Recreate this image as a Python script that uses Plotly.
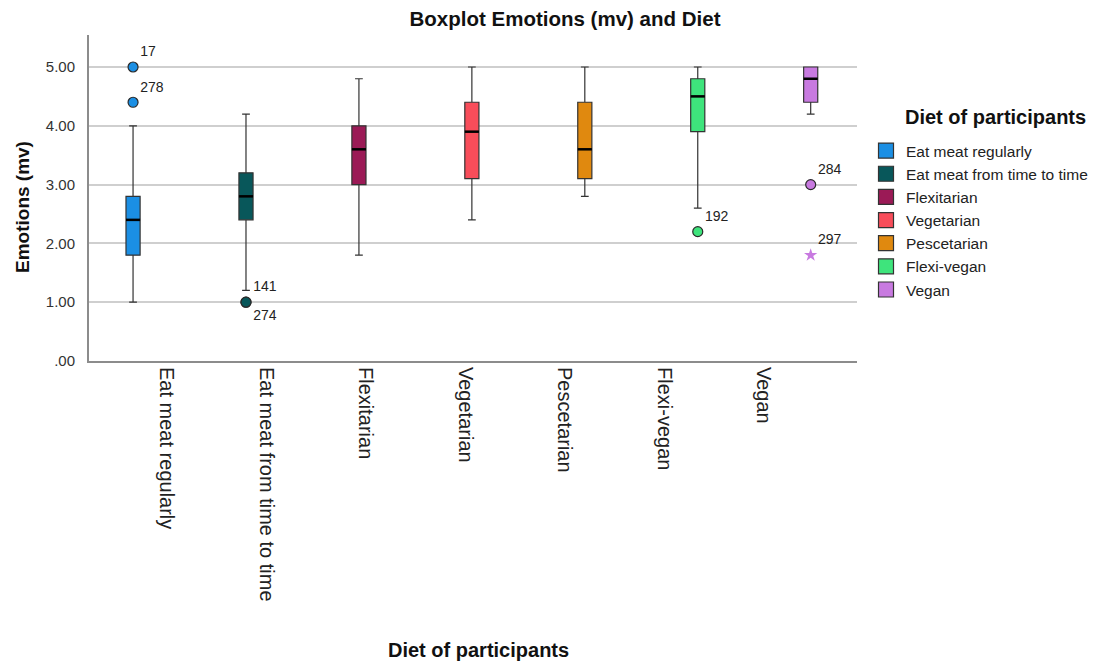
import plotly.graph_objects as go

# ---- data ----
diets = ["Eat meat regularly", "Eat meat from time to time", "Flexitarian",
         "Vegetarian", "Pescetarian", "Flexi-vegan", "Vegan"]
colors = ["#1b8fe4", "#08575a", "#9b1a56", "#f84d5a", "#e0890f", "#3ee47c", "#c87ae0"]
lower_whisker = [1.0, 1.2, 1.8, 2.4, 2.8, 2.6, 4.2]
q1 = [1.8, 2.4, 3.0, 3.1, 3.1, 3.9, 4.4]
median = [2.4, 2.8, 3.6, 3.9, 3.6, 4.5, 4.8]
q3 = [2.8, 3.2, 4.0, 4.4, 4.4, 4.8, 5.0]
upper_whisker = [4.0, 4.2, 4.8, 5.0, 5.0, 5.0, 5.0]

# outliers: (group index, value, case label)
outlier_group = [0, 0, 1, 1, 5, 6]
outlier_value = [5.0, 4.4, 1.0, 1.0, 2.2, 3.0]
outlier_label = ["17", "278", "141", "274", "192", "284"]
outlier_textpos = ["top right", "top right", "top right", "bottom right", "top right", "top right"]
extreme_group = [6]
extreme_value = [1.8]
extreme_label = ["297"]

ytick_vals = [0, 1, 2, 3, 4, 5]
ytick_text = [".00", "1.00", "2.00", "3.00", "4.00", "5.00"]

FONT = "Liberation Sans, Arial, sans-serif"
BOX_W = 0.125
# tick label positions (SPSS places category labels on its own grid)
TICK0, TICKSTEP = 0.30, 0.8805

# page has an 8px body margin: figure is drawn from (8, 8)
W, H = 1108, 656
OFF = 8
PL, PR, PT, PB = 89 - OFF, 857 - OFF, 35 - OFF, 361 - OFF  # plot area in figure px
PW, PH = PR - PL, PB - PT


def px(xp):
    return (xp - OFF - PL) / PW


def py(yp):
    return (PB - (yp - OFF)) / PH


fig = go.Figure()

for i, d in enumerate(diets):
    fig.add_trace(go.Box(
        x=[i], q1=[q1[i]], median=[median[i]], q3=[q3[i]],
        lowerfence=[lower_whisker[i]], upperfence=[upper_whisker[i]],
        width=BOX_W, whiskerwidth=0.55, fillcolor=colors[i],
        line=dict(color="#333333", width=1.2), boxpoints=False,
        showlegend=False, hoverinfo="skip"))
    # thicker black median line
    fig.add_trace(go.Scatter(
        x=[i - BOX_W / 2, i + BOX_W / 2], y=[median[i], median[i]],
        mode="lines", line=dict(color="black", width=2.5),
        showlegend=False, hoverinfo="skip"))

# outliers
for g, v, lab, tp in zip(outlier_group, outlier_value, outlier_label, outlier_textpos):
    fig.add_trace(go.Scatter(
        x=[g], y=[v], mode="markers+text", text=[lab], textposition=tp,
        textfont=dict(family=FONT, size=14, color="#222"),
        marker=dict(size=10, color=colors[g], line=dict(color="#2a2a2a", width=1.2)),
        showlegend=False, hoverinfo="skip"))

for g, v, lab in zip(extreme_group, extreme_value, extreme_label):
    fig.add_trace(go.Scatter(
        x=[g], y=[v], mode="markers+text", text=[lab], textposition="top right",
        textfont=dict(family=FONT, size=14, color="#222"),
        marker=dict(size=10, symbol="star", color=colors[g]),
        showlegend=False, hoverinfo="skip"))

# legend entries
for i, d in enumerate(diets):
    fig.add_trace(go.Scatter(
        x=[None], y=[None], mode="markers", name=d,
        marker=dict(symbol="square", size=15, color=colors[i],
                    line=dict(color="#333", width=1.2))))

fig.update_layout(
    width=W, height=H,
    margin=dict(l=PL, r=W - PR, t=PT, b=H - PB),
    paper_bgcolor="white", plot_bgcolor="white",
    font=dict(family=FONT, color="#222"),
    title=dict(text="<b>Boxplot Emotions (mv) and Diet</b>", x=(565 - OFF) / W, xref="container",
               xanchor="center", y=1 - (19 - OFF) / H, yanchor="middle",
               font=dict(family=FONT, size=20.5, color="#111")),
    xaxis=dict(range=[-0.39, 6.41], tickmode="array",
               tickvals=[TICK0 + TICKSTEP * k for k in range(len(diets))],
               ticktext=diets, tickangle=90, ticks="", showgrid=False, zeroline=False,
               showline=True, linecolor="#8c8c8c", linewidth=2,
               tickfont=dict(family=FONT, size=20, color="#222")),
    yaxis=dict(range=[0, 5.544], tickmode="array", tickvals=ytick_vals, ticktext=ytick_text,
               ticks="", showgrid=True, gridcolor="#cfcfcf", gridwidth=1.5, zeroline=False,
               showline=True, linecolor="#8c8c8c", linewidth=2, ticklabelstandoff=9,
               tickfont=dict(family=FONT, size=15, color="#333")),
    legend=dict(x=px(866), xanchor="left", y=py(134), yanchor="top",
                font=dict(family=FONT, size=15.5, color="#222"), itemwidth=30,
                tracegroupgap=0, bgcolor="rgba(0,0,0,0)"),
    annotations=[
        dict(text="<b>Diet of participants</b>", xref="paper", yref="paper",
             x=px(995), y=py(117), xanchor="center", yanchor="middle",
             showarrow=False, font=dict(family=FONT, size=20, color="#111")),
        dict(text="<b>Diet of participants</b>", xref="paper", yref="paper",
             x=px(478), y=py(650), xanchor="center", yanchor="middle",
             showarrow=False, font=dict(family=FONT, size=20, color="#111")),
        dict(text="<b>Emotions (mv)</b>", xref="paper", yref="paper",
             x=px(22), y=py(207), xanchor="center", yanchor="middle",
             textangle=-90, showarrow=False, font=dict(family=FONT, size=19, color="#111")),
    ],
)

fig.write_html("out.html")
